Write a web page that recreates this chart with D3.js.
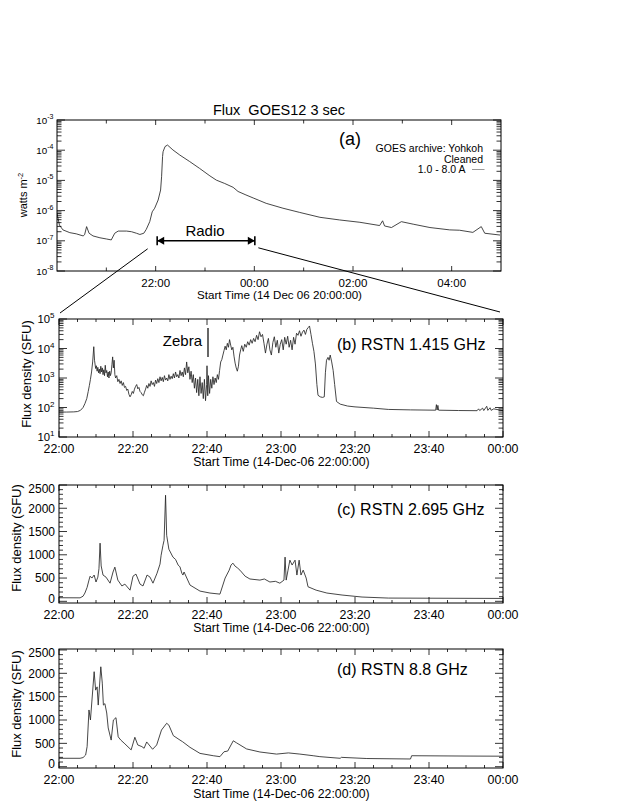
<!DOCTYPE html>
<html><head><meta charset="utf-8">
<script src="https://cdn.jsdelivr.net/npm/d3@7"></script>
<style>
body{margin:0;background:#fff}
svg{display:block}
text{font-family:"Liberation Sans",Arial,Helvetica,sans-serif;fill:#000}
</style>
</head><body>
<svg id="chart" width="623" height="806"></svg>
<script>
// ---------------- DATA ----------------
// GOES 12, 1.0-8.0 A flux: [hour UT (24+ = next day), watts m^-2]
const goesFlux = [
 [20.00,8.1e-7],[20.05,3.3e-7],[20.12,2.3e-7],[20.26,1.86e-7],[20.39,1.7e-7],[20.53,1.45e-7],
 [20.56,1.6e-7],[20.60,2.95e-7],[20.65,1.78e-7],[20.73,1.45e-7],[20.87,1.26e-7],[21.00,1.15e-7],
 [21.10,1.07e-7],[21.17,1.78e-7],[21.24,2.1e-7],[21.41,2.1e-7],[21.51,2.0e-7],[21.61,1.78e-7],
 [21.68,1.62e-7],[21.76,1.78e-7],[21.81,2.4e-7],[21.88,4.3e-7],[21.93,9.1e-7],[21.98,1.2e-6],
 [22.05,2.24e-6],[22.10,4.8e-6],[22.12,1.32e-5],[22.14,6.2e-5],[22.15,8.9e-5],[22.19,1.32e-4],
 [22.24,1.48e-4],[22.35,1.02e-4],[22.49,6.9e-5],[22.69,4.2e-5],[22.89,2.5e-5],[23.10,1.41e-5],
 [23.23,1.02e-5],[23.40,7.9e-6],[23.57,5.9e-6],[23.67,4.3e-6],[23.83,3.3e-6],[23.99,2.57e-6],
 [24.24,1.74e-6],[24.58,1.2e-6],[24.92,8.7e-7],[25.33,6.0e-7],[25.73,4.9e-7],[26.14,4.1e-7],
 [26.54,3.2e-7],[26.60,4.6e-7],[26.64,3.1e-7],[26.78,2.75e-7],[26.98,4.3e-7],[27.22,3.55e-7],
 [27.56,2.75e-7],[27.96,2.3e-7],[28.16,2.24e-7],[28.43,1.9e-7],[28.60,2.95e-7],[28.67,1.78e-7],
 [28.98,1.55e-7]
];
const goesTickHours = [22,24,26,28];
const goesTickLabels = ["22:00","00:00","02:00","04:00"];
const goesMinorHours = [21,23,25,27];
const goesDecades = [-8,-7,-6,-5,-4,-3];

// RSTN: [minutes after 22:00 UT, flux density SFU]
const rstn1415 = [
 [0,70],[2,70],[4,71],[5,73],[5.8,80],[6.5,100],[7.0,135],[7.5,200],[7.9,350],[8.2,550],[8.5,900],
 [8.8,1600],[9.1,3500],[9.4,11500],[9.6,4000],[9.9,2100],[10.1,2600],[10.3,1700],[10.5,2300],
 [10.7,1500],[10.9,2000],[11.1,1400],[11.3,2500],[11.5,1600],[11.7,2200],[11.9,1300],[12.1,1900],
 [12.3,1200],[12.5,2700],[12.7,1500],[12.9,1800],[13.1,1100],[13.3,1600],[13.5,1000],[13.7,1700],
 [13.9,1200],[14.1,1500],[14.3,2800],[14.5,5200],[14.7,2200],[14.9,4000],[15.1,1300],[15.3,1000],
 [15.6,1200],[15.9,750],[16.2,900],[16.5,650],[16.8,800],[17.1,560],[17.4,700],[17.7,480],
 [18.0,520],[18.3,380],[18.6,420],[18.9,280],[19.2,230],[19.5,270],[19.8,350],[20.1,300],
 [20.4,420],[20.7,520],[21.0,600],[21.3,430],[21.6,480],[21.9,350],[22.2,320],[22.5,270],
 [22.8,250],[23.1,330],[23.4,420],[23.7,560],[24.0,450],[24.3,650],[24.6,520],[24.9,800],
 [25.2,600],[25.5,700],[25.8,520],[26.1,850],[26.4,650],[26.7,950],[27.0,700],[27.3,1100],
 [27.6,800],[27.9,1050],[28.2,750],[28.5,1200],[28.8,850],[29.1,1000],[29.4,800],[29.7,1300],
 [30.0,900],[30.3,1150],[30.6,950],[30.9,1400],[31.2,1000],[31.5,1600],[31.8,1100],[32.1,1300],
 [32.4,1000],[32.7,1800],[33.0,1200],[33.3,1600],[33.6,1100],[33.9,2200],[34.2,1300],[34.5,3500],
 [34.8,1500],[35.1,2400],[35.4,900],[35.7,1700],[36.0,700],[36.3,1300],[36.6,450],[36.9,1000],
 [37.2,320],[37.5,900],[37.8,250],[38.1,1100],[38.4,300],[38.7,700],[39.0,200],[39.3,900],
 [39.6,170],[39.9,600],[40.0,2600],[40.2,250],[40.4,1200],[40.7,300],[41.0,900],[41.3,450],
 [41.6,1100],[41.9,600],[42.2,1000],[42.5,700],[42.8,1300],[43.1,900],[43.4,1800],[43.7,3500],
 [44.0,4200],[44.3,6000],[44.6,8500],[44.9,12000],[45.2,9000],[45.5,15000],[45.8,11000],
 [46.1,20000],[46.4,13000],[46.7,9000],[47.0,11000],[47.3,5500],[47.6,3200],[47.9,2200],
 [48.2,1700],[48.5,2500],[48.8,6000],[49.1,9000],[49.4,12500],[49.8,8000],[50.2,14000],
 [50.6,11000],[51.0,17000],[51.4,13000],[51.8,20000],[52.2,15000],[52.6,22000],[53.0,17000],
 [53.4,28000],[53.8,20000],[54.2,37000],[54.6,25000],[55.0,30000],[55.4,15000],[55.8,7000],
 [56.2,14000],[56.6,22000],[57.0,9000],[57.4,6000],[57.8,16000],[58.2,25000],[58.6,11000],
 [59.0,19000],[59.4,7000],[59.8,14000],[60.2,20000],[60.6,9000],[61.0,24000],[61.4,14000],
 [61.8,26000],[62.2,11000],[62.6,19000],[63.0,9000],[63.4,24000],[63.8,14000],[64.2,33000],
 [64.6,28000],[65.0,40000],[65.4,26000],[65.8,36000],[66.2,42000],[66.6,30000],[67.0,45000],
 [67.4,52000],[67.7,58000],[68.1,30000],[68.5,15000],[68.9,8000],[69.3,3000],[69.7,600],
 [70.0,260],[70.6,230],[71.2,220],[71.7,230],[72.0,1500],[72.3,4000],[72.7,5000],[73.0,4000],
 [73.3,6000],[73.7,3500],[74.1,1800],[74.5,600],[75.0,160],[76,130],[78,112],[80,105],[85,95],
 [89,86],[95,83],[101.8,81],[102.0,125],[102.2,82],[102.4,118],[102.6,81],[108,79],[113,78],
 [113.4,90],[113.7,79],[114.5,95],[114.8,79],[115.6,110],[115.9,80],[116.5,98],[116.8,80],
 [117.5,90],[120,78]
];
const rstn2695 = [
 [0,77],[5.7,75],[6.5,110],[7.0,178],[7.6,300],[8.1,456],[8.4,540],[8.9,500],[9.5,565],[10.0,415],
 [10.5,520],[10.8,700],[11.1,1250],[11.4,760],[11.9,565],[12.7,520],[13.8,390],[14.6,630],
 [15.1,735],[15.9,456],[17.0,330],[17.8,370],[19.2,240],[20.0,540],[20.8,585],[21.9,370],
 [22.7,330],[23.8,565],[24.6,520],[25.4,390],[26.5,605],[27.3,800],[27.6,990],[28.1,1205],
 [28.4,1310],[28.8,2280],[29.1,1420],[29.7,1120],[30.8,950],[31.5,900],[32.2,780],[32.7,740],
 [33.2,605],[33.5,565],[33.8,630],[35.4,350],[38.1,220],[40.8,178],[43.5,155],[44.9,500],
 [46.0,670],[46.5,780],[47.0,820],[47.6,755],[48.2,720],[48.9,670],[50.3,540],[51.6,480],
 [54.3,456],[55.5,480],[57.0,415],[58.5,430],[59.7,390],[60.8,456],[61.1,950],[61.4,456],
 [61.9,670],[62.4,885],[63.0,780],[63.8,885],[64.3,565],[64.9,885],[65.4,565],[66.0,670],
 [66.8,500],[67.3,313],[69.5,240],[72.4,178],[76.5,135],[81.9,92],[89,70],[120,62]
];
const rstn88 = [
 [0,180],[5.7,180],[6.5,195],[7.2,250],[7.6,430],[8.1,1215],[8.5,1000],[9.5,2035],[9.9,1640],
 [10.3,1710],[10.6,1320],[11.3,2140],[11.7,1790],[12.0,1320],[12.4,1350],[12.9,1150],[13.3,830],
 [14.1,570],[14.7,1000],[15.4,1050],[16.0,640],[16.7,570],[17.6,505],[19.5,360],[20.5,630],
 [21.3,465],[22.4,430],[23.0,395],[23.7,530],[25.3,373],[26.4,465],[27.7,785],[29.1,930],
 [29.7,890],[30.9,665],[32.7,570],[33.4,535],[35.4,415],[38.1,285],[41.7,235],[43.5,215],
 [44.6,320],[45.6,335],[47.1,555],[48.0,510],[50.7,380],[54.3,315],[58.8,270],[62.0,295],
 [65.1,270],[68.7,235],[70.5,215],[76.0,180],[76.3,200],[83.2,175],[95.0,165],[95.3,235],
 [110,228],[120,225]
];
const rstnTickMinutes = [0,20,40,60,80,100,120];
const rstnTickLabels = ["22:00","22:20","22:40","23:00","23:20","23:40","00:00"];
const logDecadesB = [1,2,3,4,5];
const linTicks = [0,500,1000,1500,2000,2500];

// ---------------- DRAW ----------------
const svg = d3.select("#chart");
const INK = "#000", TRACE = "#262626";

function frame(p){
  svg.append("rect").attr("x",p.l).attr("y",p.t).attr("width",p.r-p.l).attr("height",p.b-p.t)
    .attr("fill","none").attr("stroke",INK).attr("stroke-width",1);
}
function seg(x1,y1,x2,y2,w,c){
  svg.append("line").attr("x1",x1).attr("y1",y1).attr("x2",x2).attr("y2",y2)
    .attr("stroke",c||INK).attr("stroke-width",w||0.8);
}
function xTicks(p,sx,vals,len){ vals.forEach(v=>{const x=sx(v); seg(x,p.b,x,p.b-len); seg(x,p.t,x,p.t+len);}); }
function yTicks(p,sy,vals,len){ vals.forEach(v=>{const y=sy(v); seg(p.l,y,p.l+len,y); seg(p.r,y,p.r-len,y);}); }
function txt(x,y,s,size,anchor){
  return svg.append("text").attr("x",x).attr("y",y).attr("font-size",size)
    .attr("text-anchor",anchor||"start").style("white-space","pre").text(s);
}
function supText(x,y,base,sup,size,supSize,dy,anchor){
  const t = svg.append("text").attr("x",x).attr("y",y).attr("font-size",size).attr("text-anchor",anchor||"end");
  t.append("tspan").text(base);
  t.append("tspan").attr("font-size",supSize).attr("dy",-dy).text(sup);
  return t;
}
function clip(id,p){
  svg.append("clipPath").attr("id",id).append("rect").attr("x",p.l).attr("y",p.t).attr("width",p.r-p.l).attr("height",p.b-p.t);
}
function trace(data,sx,sy,id){
  svg.append("path").datum(data).attr("clip-path",`url(#${id})`)
    .attr("d",d3.line().x(d=>sx(d[0])).y(d=>sy(d[1])))
    .attr("fill","none").attr("stroke",TRACE).attr("stroke-width",0.85).attr("stroke-linejoin","round");
}
function logMinor(decs){ const o=[]; for(let i=0;i<decs.length-1;i++){for(let k=2;k<=9;k++)o.push(k*Math.pow(10,decs[i]));} return o; }

// ===== Panel (a) =====
const A = {l:57, r:501, t:120, b:271};
const xA = d3.scaleLinear().domain([20,29]).range([A.l,A.r]);
const yA = d3.scaleLog().domain([1e-8,1e-3]).range([A.b,A.t]);
clip("ca",A);
trace(goesFlux,xA,yA,"ca");
frame(A);
xTicks(A,xA,goesTickHours,5);
xTicks(A,xA,goesMinorHours,3.5);
yTicks(A,yA,goesDecades.map(d=>Math.pow(10,d)),8);
yTicks(A,yA,logMinor(goesDecades),4.5);
goesTickHours.forEach((h,i)=>txt(xA(h),286.5,goesTickLabels[i],11.5,"middle"));
goesDecades.forEach(d=>supText(53.5,yA(Math.pow(10,d))+3.5,"10",String(d).replace("-","-"),9.8,7,4.5,"end"));
txt((A.l+A.r)/2+0.5,298.5,"Start Time (14 Dec 06 20:00:00)",11.6,"middle");
txt((A.l+A.r)/2,115,"Flux  GOES12 3 sec",14.5,"middle");
supText(0,0,"watts m","-2",11,7.5,4,"middle").attr("transform","translate(27,195) rotate(-90)");
txt(339,144.5,"(a)",18,"start");
txt(483,151.5,"GOES archive: Yohkoh",10.5,"end");
txt(483,162.5,"Cleaned",10.5,"end");
txt(465.5,173,"1.0 - 8.0 A",10.5,"end");
seg(472,169.5,484.5,169.5,1,"#999");

// Radio arrow
const yR = yA(1e-7), xR1 = xA(22)+1.5, xR2 = xA(24)+0.5;
seg(xR1,yR,xR2,yR,1.6);
seg(xR1,yR-4.5,xR1,yR+4.5,1.6);
seg(xR2,yR-4.5,xR2,yR+4.5,1.6);
svg.append("path").attr("d",`M${xR1},${yR} L${xR1+7},${yR-4} L${xR1+7},${yR+4} Z`).attr("fill",INK);
svg.append("path").attr("d",`M${xR2},${yR} L${xR2-7},${yR-4} L${xR2-7},${yR+4} Z`).attr("fill",INK);
txt(xA(23),236,"Radio",15,"middle");

// ===== Panel (b) =====
const B = {l:59, r:503, t:319, b:437};
const xB = d3.scaleLinear().domain([0,120]).range([B.l,B.r]);
const yB = d3.scaleLog().domain([10,1e5]).range([B.b,B.t]);

// zoom connector lines
seg(xA(22)-8,yR+8,B.l+1,B.t-6,1);
seg(xA(24)+4,yR+7,B.r-3,B.t-7,1);

const minor5 = d3.range(0,121,5).filter(m=>m%20!==0);
function rstnXAxis(p,sx,labY,titleY){
  xTicks(p,sx,rstnTickMinutes,6);
  xTicks(p,sx,minor5,3);
  rstnTickMinutes.forEach((m,i)=>txt(sx(m),labY,rstnTickLabels[i],12.4,"middle"));
  txt(281.5,titleY,"Start Time (14-Dec-06 22:00:00)",12.3,"middle");
}
clip("cb",B);
trace(rstn1415,xB,yB,"cb");
frame(B);
rstnXAxis(B,xB,453,466);
yTicks(B,yB,logDecadesB.map(d=>Math.pow(10,d)),8);
yTicks(B,yB,logMinor(logDecadesB),4.5);
logDecadesB.forEach(d=>supText(54.5,yB(Math.pow(10,d))+4,"10",String(d),11.3,8,5,"end"));
txt(0,0,"Flux density (SFU)",13,"middle").attr("transform","translate(31,374) rotate(-90)");
txt(337,349.5,"(b) RSTN 1.415 GHz",16,"start");
txt(202,345.5,"Zebra",15,"end");
seg(xB(40)+1,328,xB(40)+1,357,1.2);

// ===== Panels (c) and (d) =====
function linPanel(p,dom,data,id,labY,titleY,ytitleY,label,labelY){
  const sy = d3.scaleLinear().domain(dom).range([p.b,p.t]);
  clip(id,p);
  trace(data,xB,sy,id);
  frame(p);
  rstnXAxis(p,xB,labY,titleY);
  yTicks(p,sy,linTicks,8);
  yTicks(p,sy,d3.range(100,2500,100).filter(v=>v%500!==0),4);
  linTicks.forEach(v=>{
    const y = Math.max(p.t+7.8, Math.min(p.b, sy(v)+4.3));
    txt(55,y,String(v),12,"end");
  });
  txt(0,0,"Flux density (SFU)",13,"middle").attr("transform",`translate(20.5,${ytitleY}) rotate(-90)`);
  txt(337,labelY,label,16,"start");
}
const C = {l:59, r:503, t:485, b:603};
linPanel(C,[-36,2500],rstn2695,"cc",619,632,538,"(c) RSTN 2.695 GHz",515);
const D = {l:59, r:503, t:649, b:768};
linPanel(D,[-28,2521],rstn88,"cd",784,797.5,704,"(d) RSTN 8.8 GHz",675);
</script>
</body></html>
